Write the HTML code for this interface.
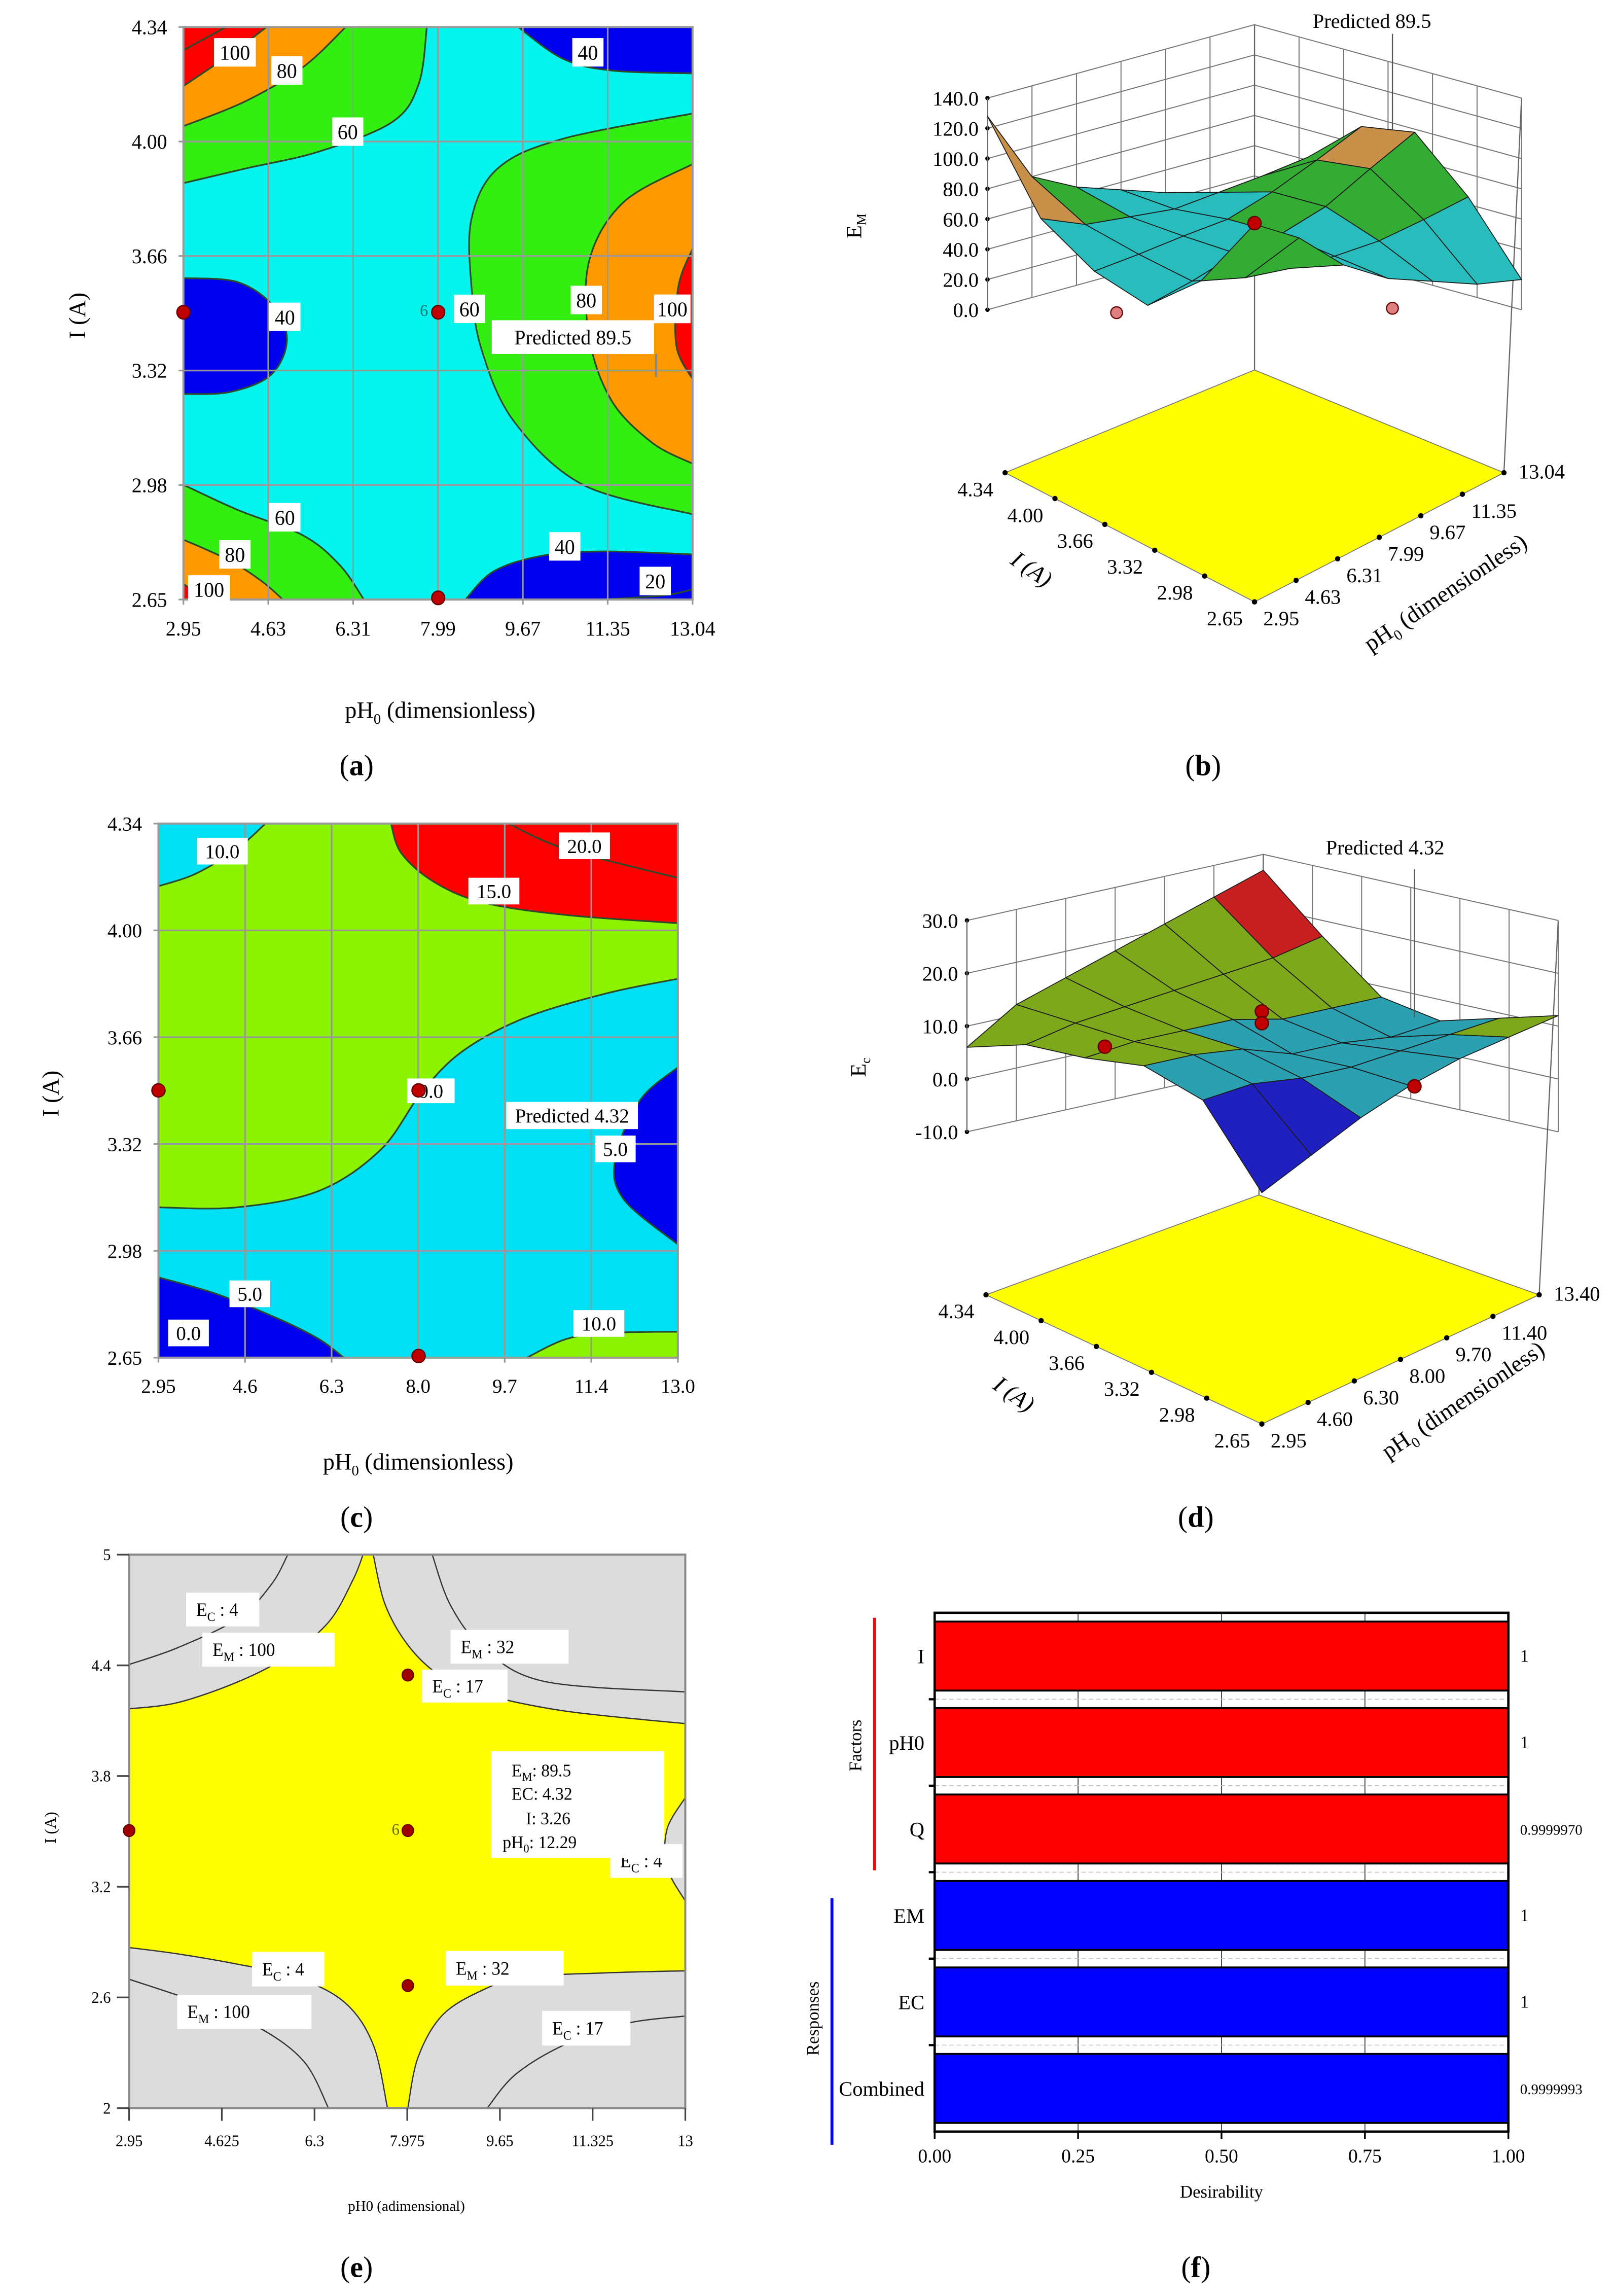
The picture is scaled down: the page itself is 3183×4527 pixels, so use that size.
<!DOCTYPE html>
<html><head><meta charset="utf-8"><title>Figure</title>
<style>
html,body{margin:0;padding:0;background:#fff;}
svg{display:block;font-family:"Liberation Serif","DejaVu Serif",serif;}
svg text{font-family:"Liberation Serif","DejaVu Serif",serif;}
</style></head>
<body>
<svg id="fig" xmlns="http://www.w3.org/2000/svg" width="3183" height="4527" viewBox="0 0 1100 1564" preserveAspectRatio="none" font-family="Liberation Serif, DejaVu Serif, serif">
<rect x="0" y="0" width="1100" height="1564" fill="#fff"/>
<defs>
<clipPath id="clipA"><rect x="265" y="65" width="1255" height="1357"/></clipPath>
<clipPath id="clipC"><rect x="210" y="88" width="1262" height="1297"/></clipPath>
<clipPath id="clipE"><rect x="130" y="140" width="1367" height="1310"/></clipPath>
</defs>
<g id="panelA" transform="translate(125,18.4) scale(0.2765,0.2874) translate(-265,-65)"></g>
<g id="panelB"></g>
<g id="panelC" transform="translate(108,561) scale(0.2805,0.2805) translate(-210,-88)"></g>
<g id="panelD"></g>
<g id="panelE" transform="translate(88,1059) scale(0.2773,0.2878) translate(-130,-140)"></g>
<g id="panelF"></g>

<text x="300" y="489" font-size="16" text-anchor="middle">pH<tspan font-size="10" dy="4">0</tspan><tspan dy="-4"> (dimensionless)</tspan></text>
<text x="0" y="0" font-size="16" text-anchor="middle" transform="translate(58,215) rotate(-90)">I (A)</text>
<text x="243" y="528" font-size="20" text-anchor="middle">(<tspan font-weight="bold">a</tspan>)</text>
<text x="820" y="528" font-size="20" text-anchor="middle">(<tspan font-weight="bold">b</tspan>)</text>
<text x="285" y="1001" font-size="16" text-anchor="middle">pH<tspan font-size="10" dy="4">0</tspan><tspan dy="-4"> (dimensionless)</tspan></text>
<text x="0" y="0" font-size="16" text-anchor="middle" transform="translate(40,745) rotate(-90)">I (A)</text>
<text x="243" y="1040" font-size="20" text-anchor="middle">(<tspan font-weight="bold">c</tspan>)</text>
<text x="815" y="1040" font-size="20" text-anchor="middle">(<tspan font-weight="bold">d</tspan>)</text>
<text x="277" y="1506" font-size="10" text-anchor="middle">pH0 (adimensional)</text>
<text x="0" y="0" font-size="11" text-anchor="middle" transform="translate(38,1245) rotate(-90)">I (A)</text>
<text x="243" y="1551" font-size="20" text-anchor="middle">(<tspan font-weight="bold">e</tspan>)</text>
<text x="815" y="1551" font-size="20" text-anchor="middle">(<tspan font-weight="bold">f</tspan>)</text>
</svg>
<script>
// ===== DATA =====
const bPH = ["2.95","4.63","6.31","7.99","9.67","11.35","13.04"];
const bI = ["4.34","4.00","3.66","3.32","2.98","2.65"];
const bEM = [
  [128, 80, 65, 55, 45, 32, 30],
  [70, 58, 55, 52, 55, 58, 62],
  [45, 48, 52, 55, 65, 78, 92],
  [32, 40, 50, 55, 65, 82, 98],
  [58, 52, 50, 50, 52, 58, 65],
  [105, 88, 62, 45, 35, 25, 20]
];
const bZTicks = [0, 20, 40, 60, 80, 100, 120, 140];
const dPH = ["2.95","4.60","6.30","8.00","9.70","11.40","13.40"];
const dI = ["4.34","4.00","3.66","3.32","2.98","2.65"];
const dEC = [
  [6, 12, 15, 18, 21, 24, 27],
  [9, 11, 12, 13, 14, 15, 17],
  [9, 10, 10, 10, 8, 8, 8],
  [10, 10, 9, 6, 6, 5, 6],
  [6, 7, 6, 6, 7, 8, 9],
  [-9, -4, 1, 5, 8, 10, 12]
];
const dZTicks = [-10, 0, 10, 20, 30];
const aXTicks = ["2.95","4.63","6.31","7.99","9.67","11.35","13.04"];
const aYTicks = ["4.34","4.00","3.66","3.32","2.98","2.65"];
const cXTicks = ["2.95","4.6","6.3","8.0","9.7","11.4","13.0"];
const cYTicks = ["4.34","4.00","3.66","3.32","2.98","2.65"];
const eXTicks = ["2.95","4.625","6.3","7.975","9.65","11.325","13"];
const eYTicks = ["5","4.4","3.8","3.2","2.6","2"];
const fCategories = ["I","pH0","Q","EM","EC","Combined"];
const fValues = [1, 1, 0.999997, 1, 1, 0.9999993];
const fValueLabels = ["1","1","0.9999970","1","1","0.9999993"];
const fGroups = ["factor","factor","factor","response","response","response"];
const fXTicks = [0, 0.25, 0.5, 0.75, 1.0];

// ===== HELPERS =====
const NS = "http://www.w3.org/2000/svg";
function mk(tag, attrs, parent){
  const el = document.createElementNS(NS, tag);
  for (const k in attrs) el.setAttribute(k, attrs[k]);
  parent.appendChild(el);
  return el;
}
function smooth(p){
  let d = "M" + p[0][0] + "," + p[0][1];
  for (let i = 0; i < p.length - 1; i++){
    const p0 = p[i-1] || p[i], p1 = p[i], p2 = p[i+1], p3 = p[i+2] || p2;
    const c1 = [p1[0] + (p2[0]-p0[0])/6, p1[1] + (p2[1]-p0[1])/6];
    const c2 = [p2[0] - (p3[0]-p1[0])/6, p2[1] - (p3[1]-p1[1])/6];
    d += "C" + c1[0].toFixed(1) + "," + c1[1].toFixed(1) + " " + c2[0].toFixed(1) + "," + c2[1].toFixed(1) + " " + p2[0] + "," + p2[1];
  }
  return d;
}
function drawRegions(g, regions, prefix, lineColor, lw){
  regions.forEach((r, i) => {
    if (r.f){
      const p = mk("path", {d: smooth(r.c) + r.k.map(q => "L" + q[0] + "," + q[1]).join("") + "Z", fill: r.f}, g);
      
      
    }
    const l = mk("path", {d: smooth(r.c), fill: "none", stroke: lineColor, "stroke-width": lw}, g);
    
    
  });
}
function boxLabel(g, x, y, txt, fs, name, w, h){
  const tw = w || (txt.length * fs * 0.52 + fs * 0.5);
  const th = h || fs * 1.35;
  const r = mk("rect", {x: x - tw/2, y: y - th/2, width: tw, height: th, fill: "#fff"}, g);
  
  
  const t = mk("text", {x: x, y: y + fs*0.35, "font-size": fs, "text-anchor": "middle", fill: "#000"}, g);
  
  
  t.textContent = txt;
  return t;
}
function dot(g, x, y, r, fill, name){
  const c = mk("circle", {cx: x, cy: y, r: r, fill: fill, stroke: "#600", "stroke-width": r*0.2}, g);
  
  
}

// ===== PANEL A =====
(function(){
  const g = document.getElementById("panelA");
  const L = 265, R = 1520, T = 65, B = 1422;
  const bg = mk("rect", {x: L, y: T, width: R-L, height: B-T, fill: "#05f5ee"}, g);
  
  
  const cg = mk("g", {"clip-path": "url(#clipA)"}, g);
  
  
  const GREEN = "#33ee11", ORANGE = "#ff9900", RED = "#ff0000", BLUE = "#0000ee";
  const regions = [
    {f: GREEN, c: [[865,65],[845,200],[780,290],[600,360],[420,400],[265,435]], k: [[265,65]]},
    {f: ORANGE, c: [[665,65],[560,160],[420,240],[265,300]], k: [[265,65]]},
    {f: RED, c: [[470,65],[380,130],[265,205]], k: [[265,65]]},
    {f: BLUE, c: [[1090,65],[1200,140],[1320,168],[1520,175]], k: [[1520,65]]},
    {f: GREEN, c: [[1520,270],[1200,330],[1040,400],[975,520],[975,680],[1000,830],[1080,1000],[1250,1150],[1520,1220]], k: []},
    {f: ORANGE, c: [[1520,390],[1350,480],[1265,620],[1265,800],[1320,950],[1420,1050],[1520,1100]], k: []},
    {f: RED, c: [[1520,590],[1485,680],[1480,820],[1520,900]], k: []},
    {f: BLUE, c: [[265,660],[400,670],[490,730],[520,810],[480,890],[380,930],[265,935]], k: []},
    {f: GREEN, c: [[265,1150],[400,1210],[560,1270],[650,1340],[710,1422]], k: [[265,1422]]},
    {f: ORANGE, c: [[265,1280],[380,1330],[460,1380],[510,1422]], k: [[265,1422]]},
    {f: RED, c: [[265,1385],[285,1400],[290,1422]], k: [[265,1422]]},
    {f: BLUE, c: [[960,1422],[1030,1355],[1150,1318],[1300,1308],[1520,1315]], k: [[1520,1422]]},
    {f: null, c: [[1300,1422],[1450,1412],[1520,1398]], k: []},
    {f: null, c: [[370,65],[265,120]], k: []}
  ];
  drawRegions(cg, regions, "a", "#2a4a2a", 4);
  aXTicks.forEach((t, i) => {
    const x = L + i*(R-L)/(aXTicks.length-1);
    const ln = mk("line", {x1: x, y1: T, x2: x, y2: B + 12, stroke: "#999", "stroke-width": 4}, g);
    
    
    const tx = mk("text", {x: x, y: B + 85, "font-size": 50, "text-anchor": "middle"}, g);
    
    
    tx.textContent = t;
  });
  aYTicks.forEach((t, i) => {
    const y = T + i*(B-T)/(aYTicks.length-1);
    const ln = mk("line", {x1: L - 12, y1: y, x2: R, y2: y, stroke: "#999", "stroke-width": 4}, g);
    
    
    const tx = mk("text", {x: L - 40, y: y + 17, "font-size": 50, "text-anchor": "end"}, g);
    
    
    tx.textContent = t;
  });
  const fr = mk("rect", {x: L, y: T, width: R-L, height: B-T, fill: "none", stroke: "#999", "stroke-width": 5}, g);
  
  
  const labs = [["100",392,125],["80",520,168],["60",670,313],["40",1262,125],["40",515,752],["60",970,733],["80",1258,712],["60",515,1227],["80",392,1315],["100",328,1398],["40",1205,1296],["20",1428,1378]];
  labs.forEach(l => boxLabel(g, l[1], l[2], l[0], 50, 'a-contour-label'));
  boxLabel(g, 1470, 733, "100", 50, 'a-contour-label', 90, 68);
  const pl = mk("line", {x1: 1430, y1: 840, x2: 1430, y2: 895, stroke: "#888", "stroke-width": 6}, g);
  
  
  boxLabel(g, 1225, 800, "Predicted 89.5", 50, 'a-predicted-label', 400, 80);
  dot(g, 265, 741, 16, "#c00000", 'a-design-point');
  dot(g, 893, 741, 16, "#c00000", 'a-design-point');
  dot(g, 893, 1418, 16, "#c00000", 'a-design-point');
  const six = mk("text", {x: 858, y: 750, "font-size": 40, "text-anchor": "middle", fill: "#077"}, g);
  
  
  six.textContent = "6";
})();

// ===== PANEL C =====
(function(){
  const g = document.getElementById("panelC");
  const L = 210, R = 1472, T = 88, B = 1385;
  const bg = mk("rect", {x: L, y: T, width: R-L, height: B-T, fill: "#8cf400"}, g);
  
  
  const cg = mk("g", {"clip-path": "url(#clipC)"}, g);
  
  
  const CYAN = "#00e0f4", RED = "#ff0000", BLUE = "#0000ee", GREEN = "#8cf400";
  const regions = [
    {f: CYAN, c: [[470,88],[400,150],[300,210],[210,240]], k: [[210,88]]},
    {f: RED, c: [[775,88],[800,160],[880,230],[1000,280],[1200,310],[1472,330]], k: [[1472,88]]},
    {f: null, c: [[1060,88],[1200,150],[1472,220]], k: []},
    {f: CYAN, c: [[210,1020],[400,1020],[600,980],[750,880],[850,740],[950,640],[1100,560],[1300,500],[1472,465]], k: [[1472,1385],[210,1385]]},
    {f: BLUE, c: [[1472,680],[1380,760],[1320,900],[1340,1000],[1472,1110]], k: []},
    {f: BLUE, c: [[210,1190],[350,1230],[500,1290],[600,1340],[660,1385]], k: [[210,1385]]},
    {f: GREEN, c: [[1105,1385],[1200,1340],[1300,1325],[1472,1322]], k: [[1472,1385]]}
  ];
  drawRegions(cg, regions, "c", "#2a4a2a", 4);
  cXTicks.forEach((t, i) => {
    const x = L + i*(R-L)/(cXTicks.length-1);
    const ln = mk("line", {x1: x, y1: T, x2: x, y2: B + 12, stroke: "#999", "stroke-width": 4}, g);
    
    
    const tx = mk("text", {x: x, y: B + 85, "font-size": 48, "text-anchor": "middle"}, g);
    
    
    tx.textContent = t;
  });
  cYTicks.forEach((t, i) => {
    const y = T + i*(B-T)/(cYTicks.length-1);
    const ln = mk("line", {x1: L - 12, y1: y, x2: R, y2: y, stroke: "#999", "stroke-width": 4}, g);
    
    
    const tx = mk("text", {x: L - 40, y: y + 17, "font-size": 48, "text-anchor": "end"}, g);
    
    
    tx.textContent = t;
  });
  const fr = mk("rect", {x: L, y: T, width: R-L, height: B-T, fill: "none", stroke: "#999", "stroke-width": 5}, g);
  
  
  const labs = [["10.0",365,155],["20.0",1245,142],["15.0",1025,252],["5.0",432,1230],["0.0",283,1325],["10.0",1280,1302],["5.0",1320,878]];
  labs.forEach(l => boxLabel(g, l[1], l[2], l[0], 48, 'c-contour-label'));
  boxLabel(g, 872, 737, "0.0", 48, 'c-contour-label', 115, 60);
  boxLabel(g, 1215, 797, "Predicted 4.32", 48, 'c-predicted-label', 320, 66);
  dot(g, 210, 736, 16, "#c00000", 'c-design-point');
  dot(g, 842, 736, 16, "#c00000", 'c-design-point');
  dot(g, 842, 1381, 16, "#c00000", 'c-design-point');
})();

// ===== PANEL E =====
(function(){
  const g = document.getElementById("panelE");
  const L = 130, R = 1497, T = 140, B = 1450;
  const bg = mk("rect", {x: L, y: T, width: R-L, height: B-T, fill: "#dcdcdc"}, g);
  
  
  const cg = mk("g", {"clip-path": "url(#clipE)"}, g);
  
  
  const top = [[130,505],[250,490],[400,440],[520,380],[620,300],[680,200],[705,140]];
  const topR = [[730,140],[760,260],[820,360],[900,430],[1000,470],[1200,510],[1497,540]];
  const rightBump = [[1497,715],[1452,790],[1452,880],[1497,960]];
  const botR = [[1497,1125],[1300,1130],[1100,1140],[1000,1170],[900,1230],[840,1330],[815,1450]];
  const botL = [[765,1450],[730,1300],[660,1200],[540,1140],[400,1110],[250,1085],[130,1070]];
  const d = smooth(top) + "L" + topR[0].join(",") + smooth(topR).slice(smooth(topR).indexOf("C")) +
    "L1497,715" + smooth(rightBump).slice(smooth(rightBump).indexOf("C")) +
    "L" + botR[0].join(",") + smooth(botR).slice(smooth(botR).indexOf("C")) +
    "L" + botL[0].join(",") + smooth(botL).slice(smooth(botL).indexOf("C")) + "Z";
  const y = mk("path", {d: d, fill: "#ffff00", stroke: "#333", "stroke-width": 3}, cg);
  
  
  const lines = [
    {f: null, c: [[130,400],[250,360],[400,290],[480,210],[520,140]], k: []},
    {f: null, c: [[875,140],[920,260],[1000,360],[1150,440],[1497,465]], k: []},
    {f: null, c: [[130,1145],[300,1200],[450,1260],[560,1340],[620,1450]], k: []},
    {f: null, c: [[1010,1450],[1080,1370],[1200,1300],[1350,1250],[1497,1232]], k: []}
  ];
  drawRegions(cg, lines, "e", "#333", 3);
  const fr = mk("rect", {x: L, y: T, width: R-L, height: B-T, fill: "none", stroke: "#888", "stroke-width": 5}, g);
  
  
  eXTicks.forEach((t, i) => {
    const x = L + i*(R-L)/(eXTicks.length-1);
    const ln = mk("line", {x1: x, y1: B, x2: x, y2: B + 30, stroke: "#444", "stroke-width": 4}, g);
    
    
    const tx = mk("text", {x: x, y: B + 90, "font-size": 38, "text-anchor": "middle"}, g);
    
    
    tx.textContent = t;
  });
  eYTicks.forEach((t, i) => {
    const yy = T + i*(B-T)/(eYTicks.length-1);
    const ln = mk("line", {x1: L - 30, y1: yy, x2: L, y2: yy, stroke: "#444", "stroke-width": 4}, g);
    
    
    const tx = mk("text", {x: L - 45, y: yy + 13, "font-size": 38, "text-anchor": "end"}, g);
    
    
    tx.textContent = t;
  });
  function sublabel(x1, y1, x2, y2, main, sub, rest, name){
    const r = mk("rect", {x: x1, y: y1, width: x2-x1, height: y2-y1, fill: "#fff"}, g);
    
    
    const t = mk("text", {x: x1 + 25, y: (y1+y2)/2 + 15, "font-size": 44}, g);
    
    
    const a = mk("tspan", {}, t); a.textContent = main;
    const b = mk("tspan", {"font-size": 30, dy: 12}, t); b.textContent = sub;
    const c = mk("tspan", {dy: -12}, t); c.textContent = rest;
  }
  sublabel(270,230,450,310,"E","C"," : 4",'e-label-ec4');
  sublabel(310,325,635,405,"E","M"," : 100",'e-label-em100');
  sublabel(920,318,1210,398,"E","M"," : 32",'e-label-em32');
  sublabel(850,412,1060,490,"E","C"," : 17",'e-label-ec17');
  sublabel(1312,825,1490,905,"E","C"," : 4",'e-label-ec4-right');
  sublabel(432,1080,610,1162,"E","C"," : 4",'e-label-ec4-bottom');
  sublabel(908,1078,1198,1160,"E","M"," : 32",'e-label-em32-bottom');
  sublabel(248,1182,578,1262,"E","M"," : 100",'e-label-em100-bottom');
  sublabel(1145,1220,1362,1302,"E","C"," : 17",'e-label-ec17-bottom');
  const br = mk("rect", {x: 1020, y: 605, width: 425, height: 253, fill: "#fff"}, g);
  
  
  const lines2 = [["E","M",": 89.5",1070,665],["EC: 4.32","","",1070,720],["  I: 3.26","","",1105,778],["pH","0",": 12.29",1048,835]];
  lines2.forEach(l => {
    const t = mk("text", {x: l[3], y: l[4], "font-size": 42}, g);
    
    
    const a = mk("tspan", {}, t); a.textContent = l[0];
    if (l[1]){ const b = mk("tspan", {"font-size": 28, dy: 10}, t); b.textContent = l[1];
      const c = mk("tspan", {dy: -10}, t); c.textContent = l[2]; }
  });
  dot(g, 815, 425, 14, "#a00000", 'e-design-point');
  dot(g, 815, 793, 14, "#a00000", 'e-design-point');
  dot(g, 130, 793, 14, "#a00000", 'e-design-point');
  dot(g, 815, 1160, 14, "#a00000", 'e-design-point');
  const six = mk("text", {x: 785, y: 803, "font-size": 38, "text-anchor": "middle", fill: "#660"}, g);
  
  
  six.textContent = "6";
})();

// ===== 3D SURFACES =====
function draw3D(g, cfg){
  const {L0, B0, R0, F0, k, zTicks, zMin, zMax, rows, pH, I, colorFn, prefix, floor} = cfg;
  function base(u, v){ return [F0[0] + u*(R0[0]-F0[0]) + v*(L0[0]-F0[0]), F0[1] + u*(R0[1]-F0[1]) + v*(L0[1]-F0[1])]; }
  function proj(u, v, z){ const b = base(u, v); return [b[0], b[1] - z*k]; }
  const fl = mk("polygon", {points: floor.map(p => p.join(",")).join(" "), fill: "#ffff00", stroke: "#777", "stroke-width": 0.6}, g);
  
  
  const wallG = mk("g", {stroke: "#777", "stroke-width": 0.7, fill: "none"}, g);
  
  
  for (let s = 0; s <= 6; s++){
    const t = s/6;
    [[t, 1],[1, t]].forEach(uv => {
      const a = proj(uv[0], uv[1], zMin), b = proj(uv[0], uv[1], zMax);
      const ln = mk("line", {x1: a[0], y1: a[1], x2: b[0], y2: b[1]}, wallG);
      
      
    });
  }
  zTicks.forEach(z => {
    const a = proj(0, 1, z), b = proj(1, 1, z), c = proj(1, 0, z);
    const pl = mk("polyline", {points: [a, b, c].map(p => p.join(",")).join(" ")}, wallG);
    
    
    const tk = mk("circle", {cx: a[0], cy: a[1], r: 1.5, fill: "#000"}, g);
    
    
    const tx = mk("text", {x: a[0] - 6, y: a[1] + 5, "font-size": 14, "text-anchor": "end"}, g);
    
    
    tx.textContent = z.toFixed(1);
  });
  const bk = proj(1, 1, zMax), rt = proj(1, 0, zMax), lt = proj(0, 1, zMax), lb = proj(0, 1, zMin);
  [[bk, floor[3]], [rt, floor[2]], [lt, lb]].forEach(pr => {
    const ln = mk("line", {x1: pr[0][0], y1: pr[0][1], x2: pr[1][0], y2: pr[1][1], stroke: "#666", "stroke-width": 0.8}, g);
    
    
  });
  const nR = rows.length, nC = rows[0].length;
  const quads = [];
  for (let j = 0; j < nR - 1; j++){
    for (let i = 0; i < nC - 1; i++){
      const pts = [[i, j], [i+1, j], [i+1, j+1], [i, j+1]].map(q => {
        const u = q[0]/(nC-1), v = 1 - q[1]/(nR-1);
        return {u, v, z: rows[q[1]][q[0]]};
      });
      const zAvg = pts.reduce((s, p) => s + p.z, 0)/4;
      const depth = pts.reduce((s, p) => s + p.u + p.v, 0)/4;
      quads.push({pts, zAvg, depth});
    }
  }
  quads.sort((a, b) => b.depth - a.depth);
  const sg = mk("g", {}, g);
  
  
  quads.forEach(q => {
    const pp = q.pts.map(p => proj(p.u, p.v, p.z));
    const poly = mk("polygon", {points: pp.map(p => p[0].toFixed(1) + "," + p[1].toFixed(1)).join(" "), fill: colorFn(q.zAvg), stroke: "#1a1a1a", "stroke-width": 0.6, "stroke-linejoin": "round"}, sg);
    
    
  });
  I.forEach((t, j) => {
    const v = 1 - j/(I.length-1);
    const p = [floor[1][0] + v*(floor[0][0]-floor[1][0]), floor[1][1] + v*(floor[0][1]-floor[1][1])];
    const c = mk("circle", {cx: p[0], cy: p[1], r: 1.8, fill: "#000"}, g);
    
    
    const tx = mk("text", {x: p[0] - 8, y: p[1] + 16, "font-size": 14, "text-anchor": "end"}, g);
    
    
    tx.textContent = t;
  });
  pH.forEach((t, i) => {
    const u = i/(pH.length-1);
    const p = [floor[1][0] + u*(floor[2][0]-floor[1][0]), floor[1][1] + u*(floor[2][1]-floor[1][1])];
    const c = mk("circle", {cx: p[0], cy: p[1], r: 1.8, fill: "#000"}, g);
    
    
    const tx = mk("text", {x: p[0] + 6 + (i === pH.length-1 ? 4 : 0), y: p[1] + 16 - (i === pH.length-1 ? 12 : 0), "font-size": 14}, g);
    
    
    tx.textContent = t;
  });
  return proj;
}

// ===== PANEL B =====
(function(){
  const g = document.getElementById("panelB");
  draw3D(g, {
    L0: [673, 211], B0: [855, 161], R0: [1037, 211], F0: [855, 261], k: 1.03,
    zTicks: bZTicks, zMin: 0, zMax: 140, rows: bEM, pH: bPH, I: bI, prefix: 'b',
    floor: [[685, 322], [855, 410], [1025, 322], [855, 252]],
    colorFn: z => z < 38 ? "#1020b8" : z < 60 ? "#28bcbc" : z < 80 ? "#34ac34" : z < 100 ? "#c89048" : "#b00c0c"
  });
  const t1 = mk("text", {x: 935, y: 19, "font-size": 14, "text-anchor": "middle"}, g);
  
  
  t1.textContent = "Predicted 89.5";
  const pl = mk("line", {x1: 949, y1: 23, x2: 949, y2: 88, stroke: "#555", "stroke-width": 0.8}, g);
  
  
  const zl = mk("text", {x: 0, y: 0, "font-size": 15, "text-anchor": "middle", transform: "translate(587,154) rotate(-90)"}, g);
  
  
  const a = mk("tspan", {}, zl); a.textContent = "E";
  const b = mk("tspan", {"font-size": 9, dy: 3}, zl); b.textContent = "M";
  const il = mk("text", {x: 0, y: 0, "font-size": 16, "font-style": "italic", "text-anchor": "middle", transform: "translate(700,392) rotate(35)"}, g);
  
  
  il.textContent = "I (A)";
  const pht = mk("text", {x: 0, y: 0, "font-size": 16, "text-anchor": "middle", transform: "translate(988,408) rotate(-34)"}, g);
  
  
  const p1 = mk("tspan", {}, pht); p1.textContent = "pH";
  const p2 = mk("tspan", {"font-size": 10, dy: 4}, pht); p2.textContent = "0";
  const p3 = mk("tspan", {dy: -4}, pht); p3.textContent = " (dimensionless)";
  dot(g, 761, 213, 4, "#e08080", 'b-design-point');
  dot(g, 949, 210, 4, "#e08080", 'b-design-point');
  dot(g, 855, 152, 4.5, "#c00000", 'b-design-point');
})();

// ===== PANEL D =====
(function(){
  const g = document.getElementById("panelD");
  draw3D(g, {
    L0: [659, 735], B0: [860, 690], R0: [1062, 735], F0: [860, 780], k: 3.6,
    zTicks: dZTicks, zMin: -10, zMax: 30, rows: dEC, pH: dPH, I: dI, prefix: 'd',
    floor: [[672, 882], [860, 970], [1049, 882], [858, 814]],
    colorFn: z => z < 3 ? "#2020c0" : z < 9 ? "#2aa0b0" : z < 20 ? "#7ea81c" : "#c82020"
  });
  const t1 = mk("text", {x: 944, y: 582, "font-size": 14, "text-anchor": "middle"}, g);
  
  
  t1.textContent = "Predicted 4.32";
  const pl = mk("line", {x1: 964, y1: 592, x2: 964, y2: 693, stroke: "#555", "stroke-width": 0.8}, g);
  
  
  const zl = mk("text", {x: 0, y: 0, "font-size": 15, "text-anchor": "middle", transform: "translate(590,727) rotate(-90)"}, g);
  
  
  const a = mk("tspan", {}, zl); a.textContent = "E";
  const b = mk("tspan", {"font-size": 9, dy: 3}, zl); b.textContent = "c";
  const il = mk("text", {x: 0, y: 0, "font-size": 16, "font-style": "italic", "text-anchor": "middle", transform: "translate(688,954) rotate(35)"}, g);
  
  
  il.textContent = "I (A)";
  const pht = mk("text", {x: 0, y: 0, "font-size": 16, "text-anchor": "middle", transform: "translate(1000,958) rotate(-34)"}, g);
  
  
  const p1 = mk("tspan", {}, pht); p1.textContent = "pH";
  const p2 = mk("tspan", {"font-size": 10, dy: 4}, pht); p2.textContent = "0";
  const p3 = mk("tspan", {dy: -4}, pht); p3.textContent = " (dimensionless)";
  dot(g, 753, 713, 4.5, "#c00000", 'd-design-point');
  dot(g, 860, 689, 4.5, "#c00000", 'd-design-point');
  dot(g, 860, 697, 4.5, "#c00000", 'd-design-point');
  dot(g, 964, 740, 4.5, "#c00000", 'd-design-point');
})();

// ===== PANEL F =====
(function(){
  const g = document.getElementById("panelF");
  const X0 = 637, X1 = 1028, T = 1098.6, B = 1452;
  const slot = (B - T)/fCategories.length;
  const xs = v => X0 + v*(X1 - X0);
  fXTicks.forEach(t => {
    const ln = mk("line", {x1: xs(t), y1: T, x2: xs(t), y2: B, stroke: "#333", "stroke-width": 0.6}, g);
    
    
  });
  fCategories.forEach((c, i) => {
    const y0 = T + i*slot;
    if (i > 0){
      const dl = mk("line", {x1: X0, y1: y0, x2: X1, y2: y0, stroke: "#bbb", "stroke-width": 0.5, "stroke-dasharray": "3,2"}, g);
      
      
      const tk = mk("line", {x1: X0 - 4, y1: y0, x2: X0, y2: y0, stroke: "#000", "stroke-width": 1.5}, g);
      
      
    }
    const bar = mk("rect", {x: X0, y: y0 + 6, width: xs(fValues[i]) - X0, height: 47, fill: fGroups[i] === "factor" ? "#ff0000" : "#0000ff", stroke: "#000", "stroke-width": 1.3}, g);
    
    
    const lab = mk("text", {x: X0 - 7, y: y0 + slot/2 + 5, "font-size": 14, "text-anchor": "end"}, g);
    
    
    lab.textContent = c;
    const val = mk("text", {x: X1 + 8, y: y0 + slot/2 + 4, "font-size": fValueLabels[i].length > 2 ? 10 : 12}, g);
    
    
    val.textContent = fValueLabels[i];
  });
  const fr = mk("rect", {x: X0, y: T, width: X1 - X0, height: B - T, fill: "none", stroke: "#000", "stroke-width": 1.6}, g);
  
  
  fXTicks.forEach(t => {
    const tk = mk("line", {x1: xs(t), y1: B, x2: xs(t), y2: B + 5, stroke: "#000", "stroke-width": 1.2}, g);
    
    
    const tx = mk("text", {x: xs(t), y: B + 21, "font-size": 13, "text-anchor": "middle"}, g);
    
    
    tx.textContent = t.toFixed(2);
  });
  const xt = mk("text", {x: (X0 + X1)/2, y: B + 45, "font-size": 12, "text-anchor": "middle"}, g);
  
  
  xt.textContent = "Desirability";
  const rl = mk("line", {x1: 596, y1: 1102, x2: 596, y2: 1274, stroke: "#ff0000", "stroke-width": 2}, g);
  
  
  const bl = mk("line", {x1: 567, y1: 1293, x2: 567, y2: 1461, stroke: "#0000ff", "stroke-width": 2}, g);
  
  
  const ft = mk("text", {x: 0, y: 0, "font-size": 12, "text-anchor": "middle", transform: "translate(587,1189) rotate(-90)"}, g);
  
  
  ft.textContent = "Factors";
  const rt = mk("text", {x: 0, y: 0, "font-size": 12, "text-anchor": "middle", transform: "translate(558,1375) rotate(-90)"}, g);
  
  
  rt.textContent = "Responses";
})();
</script>
</body></html>
